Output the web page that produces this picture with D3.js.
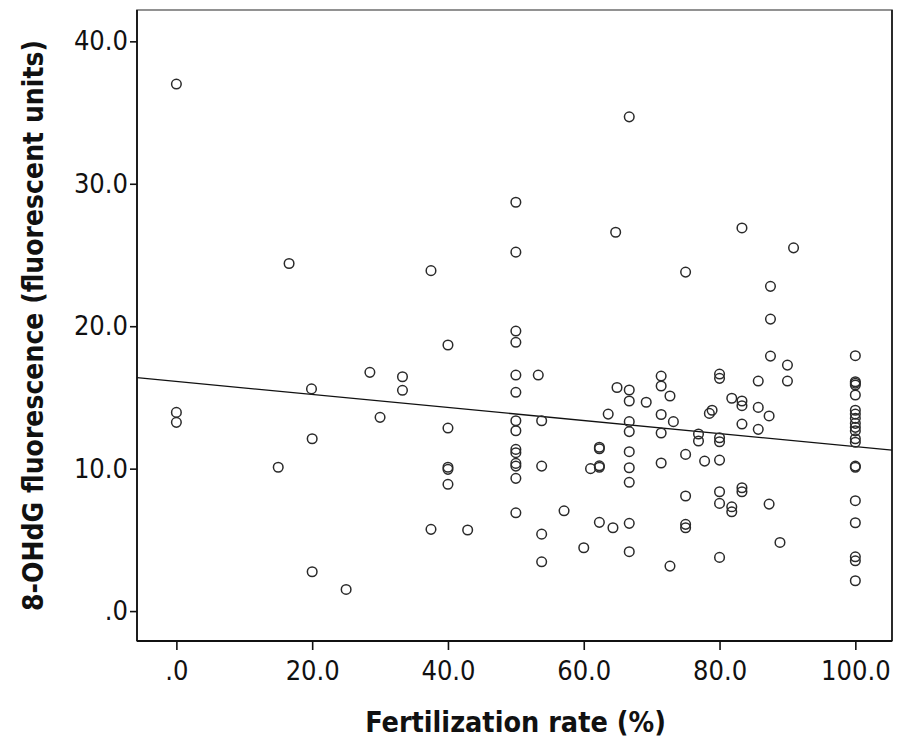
<!DOCTYPE html>
<html>
<head>
<meta charset="utf-8">
<script src="https://cdn.jsdelivr.net/npm/d3@7/dist/d3.min.js"></script>
<style>
  html, body { margin: 0; padding: 0; background: #fff; }
  svg { display: block; }
</style>
</head>
<body>
<div id="chart"></div>
<script>
// ---- data ----
const fertilizationRate = [
  0, 0, 0, 15.0, 16.6, 19.9, 20, 20, 25.0, 28.5, 30.0, 33.3, 33.3, 37.5, 37.5,
  40, 40, 40, 40, 40, 42.9,
  50, 50, 50, 50, 50, 50, 50, 50, 50, 50, 50, 50, 50, 50,
  53.3, 53.8, 53.8, 53.8, 53.8, 57.1, 60.0, 62.3, 62.3, 62.3, 62.3, 62.3, 61.0, 63.6, 64.3, 64.7, 64.9,
  66.7, 66.7, 66.7, 66.7, 66.7, 66.7, 66.7, 66.7, 66.7, 66.7,
  69.2, 71.4, 71.4, 71.4, 71.4, 71.4, 72.7, 73.2, 72.7,
  75, 75, 75, 75, 75, 76.9, 76.9, 77.8, 78.5, 78.9,
  80, 80, 80, 80, 80, 80, 80, 80, 81.8, 81.8, 81.8,
  83.3, 83.3, 83.3, 83.3, 83.3, 83.3, 85.7, 85.7, 85.7,
  87.5, 87.5, 87.5, 87.3, 87.3, 88.9, 90.0, 90.0, 90.9,
  100, 100, 100, 100, 100, 100, 100, 100, 100, 100, 100, 100, 100, 100, 100, 100, 100, 100, 100, 100
];
const ohdgFluorescence = [
  37.0, 13.95, 13.25, 10.1, 24.4, 15.6, 12.1, 2.76, 1.52, 16.76, 13.6, 16.45, 15.5, 23.9, 5.74,
  18.68, 12.85, 10.1, 9.95, 8.9, 5.69,
  28.7, 25.2, 19.66, 18.87, 16.57, 15.36, 13.36, 12.66, 11.35, 11.12, 10.37, 10.18, 9.32, 6.9,
  16.57, 13.36, 10.18, 5.4, 3.46, 7.04, 4.45, 6.23, 11.5, 11.4, 10.2, 10.1, 10.0, 13.83, 5.85, 26.6, 15.7,
  34.7, 15.52, 14.75, 13.3, 12.6, 11.19, 10.06, 9.04, 6.16, 4.17,
  14.66, 16.5, 15.8, 13.8, 12.5, 10.4, 15.1, 13.3, 3.16,
  23.8, 11.0, 8.08, 6.09, 5.85, 12.43, 11.94, 10.53, 13.88, 14.1,
  16.64, 16.34, 12.17, 11.89, 10.6, 8.38, 7.56, 3.77, 14.94, 7.32, 6.97,
  26.9, 14.75, 14.42, 13.13, 8.66, 8.38, 16.15, 14.3, 12.76,
  22.8, 20.5, 17.9, 13.7, 7.51, 4.82, 17.27, 16.15, 25.5,
  17.93, 16.1, 16.0, 15.87, 15.17, 14.1, 13.83, 13.53, 13.18, 12.9, 12.65, 12.1, 11.85, 10.18, 10.1, 7.75, 6.2, 3.81, 3.53, 2.13
];
// fitted line: y = intercept + slope * x
const fitLine = [16.12, -0.0457];
const xTicks = [0, 20, 40, 60, 80, 100];
const xTickLabels = [".0", "20.0", "40.0", "60.0", "80.0", "100.0"];
const yTicks = [0, 10, 20, 30, 40];
const yTickLabels = [".0", "10.0", "20.0", "30.0", "40.0"];
const xTitle = "Fertilization rate (%)";
const yTitle = "8-OHdG fluorescence (fluorescent units)";

// ---- layout ----
const W = 901, H = 749;
const plot = { left: 137, top: 10, right: 892, bottom: 641 };
const xDomain = [-5.8, 105.4];
const yDomain = [-2.1, 42.2];
const font = "'DejaVu Sans Condensed', 'DejaVu Sans', sans-serif";

const svg = d3.select("#chart").append("svg")
  .attr("width", W).attr("height", H);

const x = d3.scaleLinear().domain(xDomain).range([plot.left, plot.right]);
const y = d3.scaleLinear().domain(yDomain).range([plot.bottom, plot.top]);

// frame
svg.append("rect")
  .attr("x", plot.left).attr("y", plot.top)
  .attr("width", plot.right - plot.left).attr("height", plot.bottom - plot.top)
  .attr("fill", "none").attr("stroke", "#777").attr("stroke-width", 1.6);

// axes
const xAxis = d3.axisBottom(x).tickValues(xTicks)
  .tickFormat((d, i) => xTickLabels[i]).tickSize(9).tickPadding(11);
const yAxis = d3.axisLeft(y).tickValues(yTicks)
  .tickFormat((d, i) => yTickLabels[i]).tickSize(7).tickPadding(2);

const gx = svg.append("g").attr("transform", `translate(0,${plot.bottom})`).call(xAxis);
const gy = svg.append("g").attr("transform", `translate(${plot.left},0)`).call(yAxis);
[gx, gy].forEach(g => {
  g.select(".domain").attr("stroke", "#111").attr("stroke-width", 1.8);
  g.selectAll(".tick line").attr("stroke", "#111").attr("stroke-width", 1.6);
  g.selectAll(".tick text").attr("fill", "#111")
    .style("font-family", font).style("font-size", "27px");
});
gx.select(".domain").attr("d", `M${plot.left},0H${plot.right}`);
gy.select(".domain").attr("d", `M0,${plot.top}V${plot.bottom}`);

// right border darker
svg.append("line").attr("x1", plot.right).attr("x2", plot.right)
  .attr("y1", plot.top).attr("y2", plot.bottom)
  .attr("stroke", "#111").attr("stroke-width", 1.6);

// regression line
const lineData = xDomain.map(v => [v, fitLine[0] + fitLine[1] * v]);
svg.append("path")
  .attr("d", d3.line().x(d => x(d[0])).y(d => y(d[1]))(lineData))
  .attr("fill", "none").attr("stroke", "#111").attr("stroke-width", 1.3);

// points
const pts = fertilizationRate.map((v, i) => [v, ohdgFluorescence[i]]);
svg.append("g").selectAll("circle").data(pts).join("circle")
  .attr("cx", d => x(d[0])).attr("cy", d => y(d[1])).attr("r", 4.8)
  .attr("fill", "none").attr("stroke", "#2a2a2a").attr("stroke-width", 1.5);

// titles
svg.append("text")
  .attr("x", (plot.left + plot.right) / 2 + 1).attr("y", 732)
  .attr("text-anchor", "middle")
  .style("font-family", font).style("font-size", "28.5px").style("font-weight", "bold")
  .attr("fill", "#111").text(xTitle);

svg.append("text")
  .attr("transform", `translate(43,${(plot.top + plot.bottom) / 2}) rotate(-90)`)
  .attr("text-anchor", "middle")
  .style("font-family", font).style("font-size", "28px").style("font-weight", "bold")
  .attr("fill", "#111").text(yTitle);
</script>
</body>
</html>
